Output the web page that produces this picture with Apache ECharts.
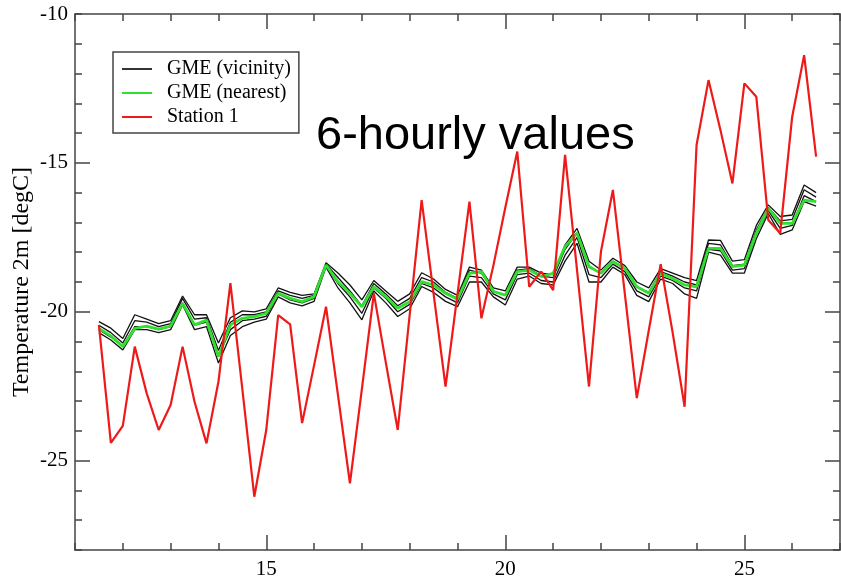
<!DOCTYPE html>
<html>
<head>
<meta charset="utf-8">
<script src="https://cdn.jsdelivr.net/npm/echarts@6/dist/echarts.min.js"></script>
<style>
* {
  margin: 0;
  padding: 0;
}
body {
  background: #fff;
}
</style>
</head>
<body>
<!-- chart container -->
<div id="main" style="width: 841px; height: 579px;"></div>
<script>
// time axis (days, 6-hourly steps)
var days = [11.5, 11.75, 12, 12.25, 12.5, 12.75, 13, 13.25, 13.5, 13.75,
  14, 14.25, 14.5, 14.75, 15, 15.25, 15.5, 15.75, 16, 16.25,
  16.5, 16.75, 17, 17.25, 17.5, 17.75, 18, 18.25, 18.5, 18.75,
  19, 19.25, 19.5, 19.75, 20, 20.25, 20.5, 20.75, 21, 21.25,
  21.5, 21.75, 22, 22.25, 22.5, 22.75, 23, 23.25, 23.5, 23.75,
  24, 24.25, 24.5, 24.75, 25, 25.25, 25.5, 25.75, 26, 26.25, 26.5];

// Station 1 observations
var station1 = [-20.44, -24.4, -23.83, -21.17, -22.74, -23.97, -23.13, -21.17, -23.02, -24.42,
  -22.35, -19.04, -22.6, -26.21, -23.97, -20.11, -20.42, -23.74, -21.8, -19.83,
  -22.8, -25.76, -22.6, -19.38, -21.7, -23.97, -20.1, -16.25, -19.4, -22.51,
  -19.4, -16.3, -20.22, -18.45, -16.5, -14.62, -19.16, -18.65, -19.27, -14.73,
  -18.6, -22.51, -17.98, -15.91, -19.4, -22.9, -20.63, -18.4, -20.7, -23.19,
  -14.4, -12.22, -13.9, -15.69, -12.33, -12.78, -16.92, -17.36, -13.45, -11.38, -14.79];

// GME nearest grid point
var gmeNearest = [-20.56, -20.81, -21.17, -20.56, -20.48, -20.58, -20.48, -19.72, -20.44, -20.28,
  -21.5, -20.44, -20.22, -20.16, -20.05, -19.38, -19.55, -19.66, -19.49, -18.43,
  -18.99, -19.38, -19.83, -19.16, -19.49, -19.88, -19.66, -18.99, -19.1, -19.38,
  -19.58, -18.71, -18.65, -19.32, -19.44, -18.65, -18.6, -18.82, -18.71, -17.81,
  -17.36, -18.48, -18.71, -18.32, -18.54, -19.16, -19.38, -18.71, -18.88, -19.1,
  -19.16, -17.87, -17.87, -18.48, -18.43, -17.36, -16.52, -17.03, -17.03, -16.25, -16.3];

// GME surrounding grid points
var gmeVicinity1 = [-20.33, -20.55, -20.9, -20.1, -20.25, -20.4, -20.3, -19.47, -20.1, -20.1,
  -21.05, -20.2, -19.97, -20.0, -19.9, -19.2, -19.35, -19.45, -19.4, -18.35,
  -18.7, -19.1, -19.6, -18.95, -19.3, -19.65, -19.4, -18.69, -18.9, -19.25,
  -19.45, -18.5, -18.6, -19.2, -19.3, -18.5, -18.5, -18.7, -18.75, -17.75,
  -17.2, -18.3, -18.6, -18.2, -18.45, -19.0, -19.2, -18.55, -18.7, -18.85,
  -18.95, -17.59, -17.6, -18.3, -18.25, -17.1, -16.41, -16.8, -16.75, -15.74, -16.0];
var gmeVicinity2 = [-20.45, -20.7, -21.05, -20.3, -20.35, -20.5, -20.4, -19.55, -20.25, -20.2,
  -21.3, -20.35, -20.1, -20.1, -20.0, -19.3, -19.45, -19.55, -19.45, -18.4,
  -18.85, -19.3, -19.8, -19.05, -19.4, -19.8, -19.55, -18.85, -19.0, -19.35,
  -19.55, -18.6, -18.7, -19.3, -19.45, -18.6, -18.55, -18.8, -18.85, -17.9,
  -17.35, -18.5, -18.7, -18.3, -18.55, -19.15, -19.35, -18.65, -18.8, -19.0,
  -19.1, -17.7, -17.75, -18.45, -18.4, -17.25, -16.5, -16.95, -16.9, -15.9, -16.15];
var gmeVicinity3 = [-20.6, -20.85, -21.15, -20.5, -20.5, -20.6, -20.5, -19.7, -20.45, -20.35,
  -21.5, -20.6, -20.3, -20.25, -20.15, -19.4, -19.6, -19.7, -19.55, -18.45,
  -19.05, -19.5, -20.05, -19.2, -19.55, -20.0, -19.75, -19.05, -19.2, -19.5,
  -19.7, -18.8, -18.85, -19.4, -19.6, -18.75, -18.7, -18.95, -19.0, -18.1,
  -17.5, -18.75, -18.85, -18.4, -18.65, -19.3, -19.5, -18.8, -18.95, -19.2,
  -19.3, -17.9, -17.95, -18.6, -18.55, -17.4, -16.6, -17.2, -17.1, -16.1, -16.3];
var gmeVicinity4 = [-20.7, -20.95, -21.28, -20.6, -20.6, -20.7, -20.6, -19.77, -20.6, -20.5,
  -21.72, -20.8, -20.5, -20.35, -20.25, -19.5, -19.7, -19.8, -19.65, -18.5,
  -19.2, -19.7, -20.27, -19.3, -19.7, -20.16, -19.9, -19.15, -19.35, -19.65,
  -19.83, -19.0, -19.0, -19.5, -19.77, -18.9, -18.8, -19.05, -19.1, -18.3,
  -17.7, -19.0, -19.0, -18.5, -18.75, -19.45, -19.66, -18.9, -19.05, -19.4,
  -19.55, -18.0, -18.1, -18.7, -18.7, -17.55, -16.7, -17.4, -17.25, -16.3, -16.45];

var xMajorTicks = [15, 20, 25];
var yMajorTicks = [-25, -20, -15];

var axisColor = '#444';
var serif = '"Liberation Serif", "DejaVu Serif", serif';

function pairs(values) {
  return days.map(function(d, i) {
    return [d, values[i]];
  });
}

function minorAxis(pos, min, max, showLabel) {
  return {
    type: 'value',
    position: pos,
    min: min,
    max: max,
    interval: 1,
    axisLine: { show: true, lineStyle: { color: axisColor, width: 1.5 } },
    axisTick: { show: true, inside: true, length: 7, lineStyle: { color: axisColor, width: 1.5 } },
    axisLabel: {
      show: showLabel,
      color: '#000',
      fontFamily: serif,
      fontSize: 21,
      margin: pos === 'left' ? 7 : 9,
      formatter: function(v) {
        return v % 5 === 0 ? String(v) : '';
      }
    },
    splitLine: { show: false }
  };
}

function majorAxis(pos, min, max, ticks) {
  return {
    type: 'value',
    position: pos,
    min: min,
    max: max,
    interval: 1,
    axisLine: { show: false },
    axisTick: { show: true, inside: true, length: 15, customValues: ticks, lineStyle: { color: axisColor, width: 1.5 } },
    axisLabel: { show: false },
    splitLine: { show: false }
  };
}

var blackLines = [gmeVicinity1, gmeVicinity2, gmeVicinity3, gmeVicinity4];
var series = blackLines.map(function(arr) {
  return {
    name: 'GME (vicinity)',
    type: 'line',
    data: pairs(arr),
    symbol: 'none',
    lineStyle: { color: '#111', width: 1.3 },
    itemStyle: { color: '#111' },
    z: 2
  };
});
series.push({
  name: 'GME (nearest)',
  type: 'line',
  data: pairs(gmeNearest),
  symbol: 'none',
  lineStyle: { color: '#2fe02f', width: 2.8 },
  itemStyle: { color: '#2fe02f' },
  z: 3
});
series.push({
  name: 'Station 1',
  type: 'line',
  data: pairs(station1),
  symbol: 'none',
  lineStyle: { color: '#ee1a1a', width: 2.2 },
  itemStyle: { color: '#ee1a1a' },
  z: 4
});

var yLeft = minorAxis('left', -28, -10, true);
yLeft.name = 'Temperature 2m [degC]';
yLeft.nameLocation = 'middle';
yLeft.nameGap = 41;
yLeft.nameMoveOverlap = false;
yLeft.nameTextStyle = { color: '#000', fontFamily: serif, fontSize: 24 };

var chart = echarts.init(document.getElementById('main'));
chart.setOption({
  animation: false,
  backgroundColor: '#fff',
  grid: { left: 75, right: 1, top: 14, bottom: 29, outerBoundsMode: 'none' },
  legend: {
    data: [
      { name: 'GME (vicinity)', itemStyle: { color: '#333' } },
      { name: 'GME (nearest)' },
      { name: 'Station 1' }
    ],
    icon: 'rect',
    orient: 'vertical',
    left: 113,
    top: 52,
    padding: [5, 8, 4, 9],
    itemGap: 0,
    itemWidth: 30,
    itemHeight: 2,
    borderColor: '#444',
    borderWidth: 1.5,
    backgroundColor: '#fff',
    textStyle: { color: '#000', fontFamily: serif, fontSize: 20, lineHeight: 24, padding: [0, 0, 0, 10] }
  },
  graphic: [{
    type: 'text',
    left: 316,
    top: 113,
    z: 100,
    style: { text: '6-hourly values', font: '47px "Liberation Sans", Arial, sans-serif', fill: '#000' }
  }],
  xAxis: [
    minorAxis('bottom', 11, 27, true),
    majorAxis('bottom', 11, 27, xMajorTicks),
    minorAxis('top', 11, 27, false),
    majorAxis('top', 11, 27, xMajorTicks)
  ],
  yAxis: [
    yLeft,
    majorAxis('left', -28, -10, yMajorTicks),
    minorAxis('right', -28, -10, false),
    majorAxis('right', -28, -10, yMajorTicks)
  ],
  series: series
});
</script>
</body>
</html>
